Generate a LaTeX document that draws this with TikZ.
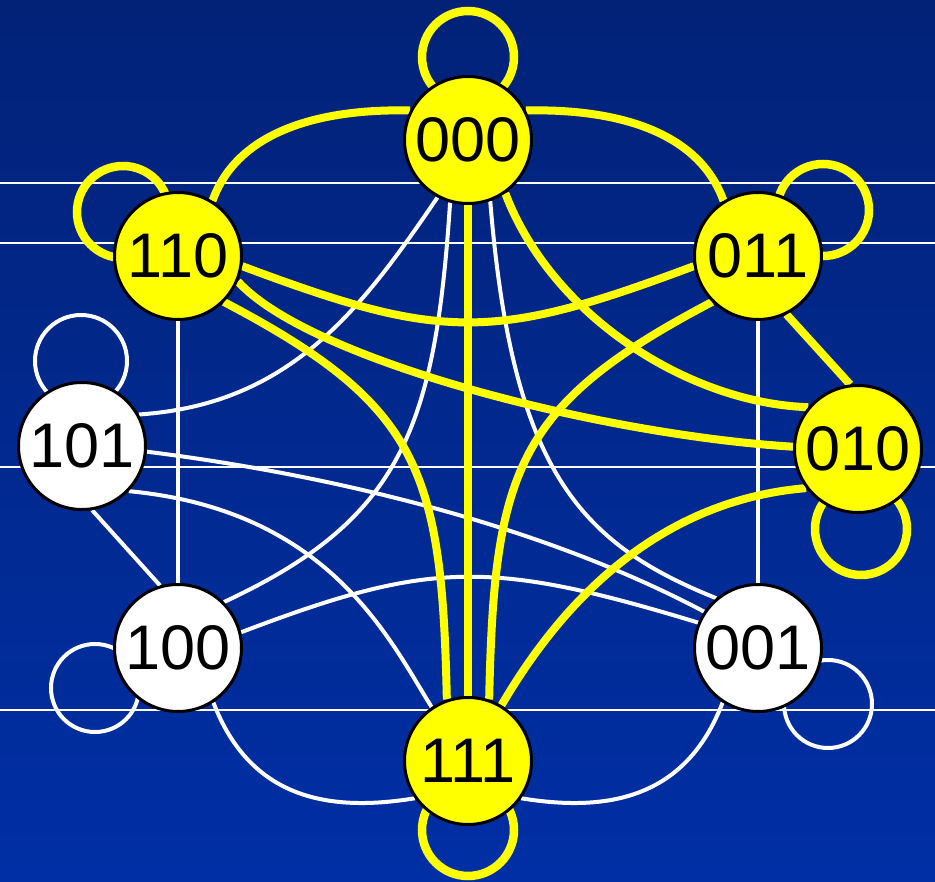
\documentclass[tikz,border=0pt]{standalone}
\usepackage{fontspec}
\setmainfont{Liberation Sans}
\usetikzlibrary{calc}
\definecolor{BgTop}{RGB}{2,34,120}
\definecolor{BgBottom}{RGB}{0,47,165}
\definecolor{Lit}{RGB}{255,255,0}
\pgfdeclarelayer{bg}
\pgfdeclarelayer{wires}
\pgfsetlayers{bg,wires,main}

\begin{document}
\begin{tikzpicture}[x=1pt,y=-1pt,
  state/.style={circle,draw=black,line width=3pt,minimum size=127pt,inner sep=0pt,
    font=\fontsize{63}{70}\selectfont},
  litstate/.style={state,fill=Lit},
  dimstate/.style={state,fill=white},
  litwire/.style={draw=Lit,line width=8pt},
  dimwire/.style={draw=white,line width=4pt},
  litloop/.style={draw=Lit,line width=8.5pt},
  dimloop/.style={draw=white,line width=4pt}]
  \useasboundingbox (0,0) rectangle (935,882);

  % states
  \node[litstate] (n000) at (468,140) {000};
  \node[litstate] (n110) at (178,256) {110};
  \node[litstate] (n011) at (758,256) {011};
  \node[dimstate] (n101) at (82,446) {101};
  \node[litstate] (n010) at (858,449) {010};
  \node[dimstate] (n100) at (178,648) {100};
  \node[dimstate] (n001) at (758,648) {001};
  \node[litstate] (n111) at (468,761) {111};

  \begin{pgfonlayer}{bg}
    \shade[top color=BgTop,bottom color=BgBottom] (0,0) rectangle (935,882);
    \foreach \y in {183,243,467,710}
      \draw[white,line width=1.5pt] (0,\y) -- (935,\y);
  \end{pgfonlayer}

  \begin{pgfonlayer}{wires}
    % white transitions
    \draw[dimwire] (n110) -- (n100);
    \draw[dimwire] (n011) -- (n001);
    \draw[dimwire] (n101.-81) -- (n100.106);
    \draw[dimwire] (n101.29) .. controls +(151,-10) and +(-77,113) .. (n000.-118);
    \draw[dimwire] (n100.45) .. controls +(176,-82) and +(-15,228) .. (n000.-106);
    \draw[dimwire] (n000.-70) .. controls +(22,269) and +(-137,-55) .. (n001.130);
    \draw[dimwire] (n101.-5) .. controls +(183,23) and +(-164,-87) .. (n001.146);
    \draw[dimwire] (n101.-44) .. controls +(201,19) and +(-42,-67) .. (n111.124);
    \draw[dimwire] (n100.14) .. controls +(189,-72) and +(-208,-63) .. (n001.157);
    \draw[dimwire] (n100.-57) .. controls +(37,97) and +(-85,14) .. (n111.215);
    \draw[dimwire] (n001.237) .. controls +(-37,97) and +(85,14) .. (n111.325);
    \draw[dimloop] ($(n101)+(-1,-85)$) circle[radius=46pt];
    \draw[dimloop] ($(n100)+(-83,40)$) circle[radius=44pt];
    \draw[dimloop] ($(n001)+(70,56)$) circle[radius=44pt];

    % yellow transitions
    \draw[litwire] (n000.153) .. controls +(-90,-2) and +(25,-70) .. (n110.58);
    \draw[litwire] (n000.27) .. controls +(90,-2) and +(-25,-70) .. (n011.122);
    \draw[litwire] (n000) -- (n111);
    \draw[litwire] (n000.-55) .. controls +(47,124) and +(-118,-4) .. (n010.140);
    \draw[litwire] (n110.-9) .. controls +(200,75) and +(-200,75) .. (n011.189);
    \draw[litwire] (n110.-23) .. controls +(72,79) and +(-193,-12) .. (n010.178);
    \draw[litwire] (n110.-45) .. controls +(196,103) and +(-5,-230) .. (n111.109);
    \draw[litwire] (n011.-135) .. controls +(-196,103) and +(5,-230) .. (n111.71);
    \draw[litwire] (n011.-64) -- (n010.97);
    \draw[litwire] (n010.217) .. controls +(-120,10) and +(80,-137) .. (n111.59);
    \draw[litloop] ($(n000)+(0,-83)$) circle[radius=46pt];
    \draw[litloop] ($(n110)+(-55,-44)$) circle[radius=46pt];
    \draw[litloop] ($(n011)+(65,-46)$) circle[radius=46pt];
    \draw[litloop] ($(n010)+(3,80)$) circle[radius=46pt];
    \draw[litloop] ($(n111)+(0,69)$) circle[radius=46pt];
  \end{pgfonlayer}
\end{tikzpicture}
\end{document}
